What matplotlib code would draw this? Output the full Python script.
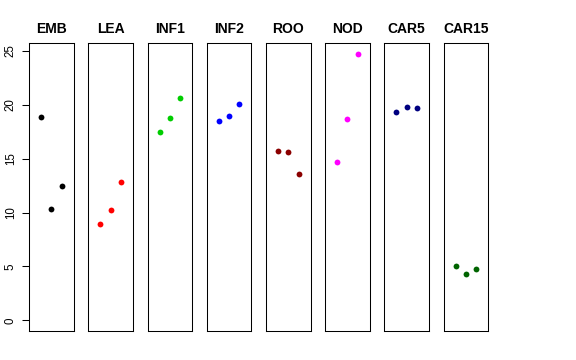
import numpy as np
import matplotlib
matplotlib.use('Agg')
import matplotlib.pyplot as plt

plt.rcParams['font.family'] = ['Liberation Sans', 'DejaVu Sans']

# tissues and the three replicate values of each
tissues = ['EMB', 'LEA', 'INF1', 'INF2', 'ROO', 'NOD', 'CAR5', 'CAR15']
emb = [18.85, 10.36, 12.44]
lea = [8.97, 10.24, 12.87]
inf1 = [17.51, 18.75, 20.67]
inf2 = [18.53, 18.94, 20.05]
roo = [15.75, 15.63, 13.58]
nod = [14.67, 18.72, 24.75]
car5 = [19.34, 19.83, 19.68]
car15 = [5.07, 4.27, 4.74]
values = [emb, lea, inf1, inf2, roo, nod, car5, car15]
colors = ['black', 'red', '#00CD00', 'blue', '#8B0000', 'magenta', '#000080', '#006400']
yticks = [0, 5, 10, 15, 20, 25]

W, H = 576, 360
fig = plt.figure(figsize=(W / 100, H / 100), dpi=100)

# R-style limits: data range padded by 4%
ymax = max(max(v) for v in values)
pad = 0.04 * ymax
ylim = (0 - pad, ymax + pad)
xlim = (-0.16, 4.16)

left0, step, width = 29.2, 59.2, 44.5
bottom, top = 331, 43

for i, (name, vals, col) in enumerate(zip(tissues, values, colors)):
    ax = fig.add_axes([(left0 + i * step) / W, 1 - bottom / H,
                       width / W, (bottom - top) / H])
    x = np.arange(1, len(vals) + 1)
    ax.plot(x, vals, 'o', color=col, markersize=4.2, markeredgewidth=0)
    ax.set_xlim(*xlim)
    ax.set_ylim(*ylim)
    ax.set_xticks([])
    for s in ax.spines.values():
        s.set_linewidth(0.75)
    if i == 0:
        ax.set_yticks(yticks)
        ax.set_yticklabels([str(t) for t in yticks], rotation=90, va='center')
        ax.tick_params(axis='y', direction='out', length=5, width=0.75,
                       pad=4, labelsize=8.3)
    else:
        ax.set_yticks([])
    ax.text(0.5, 1 + 14 / (bottom - top), name, transform=ax.transAxes,
            ha='center', va='center', fontsize=10, fontweight='bold')

fig.savefig('out.png', dpi=100)
